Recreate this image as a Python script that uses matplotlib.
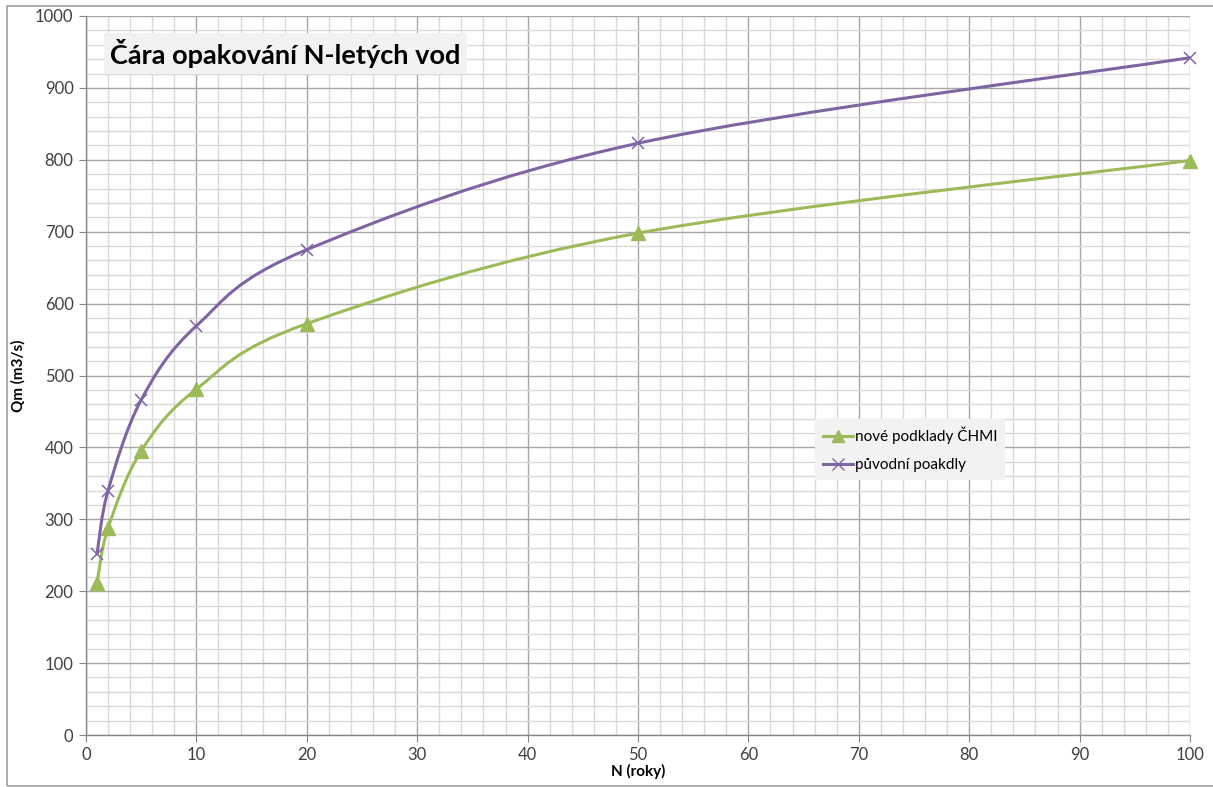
"""Čára opakování N-letých vod – Excel style smoothed line chart."""

import numpy as np
from matplotlib import pyplot as plt
from matplotlib.lines import Line2D
from matplotlib.patches import PathPatch, Rectangle
from matplotlib.path import Path
from matplotlib.ticker import MultipleLocator

plt.rcParams["font.family"] = ["Lato", "DejaVu Sans"]

# ------------------------------------------------------------------ #
#  Data
# ------------------------------------------------------------------ #
n_years = [1, 2, 5, 10, 20, 50, 100]
q_new = [212, 288, 395, 481, 572, 698, 799]
q_old = [252, 340, 466, 569, 675, 823, 942]

series_labels = ["nové podklady ČHMI", "původní poakdly"]
title_text = "Čára opakování N-letých vod"
x_label = "N (roky)"
y_label = "Qm (m3/s)"

GREEN = "#9BBB59"
PURPLE = "#8064A2"
GRID_MAJOR = "#a6a6a6"
GRID_MINOR = "#d9d9d9"
TEXT = "#404040"


def smooth_path(xs, ys):
    """Catmull-Rom -> cubic Bezier, roughly what Excel does for smoothed lines."""
    pts = np.column_stack([xs, ys]).astype(float)
    verts = [pts[0]]
    codes = [Path.MOVETO]
    n = len(pts)
    for i in range(n - 1):
        p0 = pts[i - 1] if i > 0 else pts[i]
        p1 = pts[i]
        p2 = pts[i + 1]
        p3 = pts[i + 2] if i + 2 < n else pts[i + 1]
        c1 = p1 + (p2 - p0) / 6.0
        c2 = p2 - (p3 - p1) / 6.0
        verts += [c1, c2, p2]
        codes += [Path.CURVE4] * 3
    return Path(verts, codes)


fig = plt.figure(figsize=(12.13, 7.87), dpi=100)
ax = fig.add_axes([86 / 1213, 52 / 787, 1104 / 1213, 719 / 787])

# outer chart border (its right edge lies outside the image)
fig.patches.append(
    Rectangle((7 / 1213, 1 / 787), 1220 / 1213, 780 / 787, transform=fig.transFigure,
              fill=False, edgecolor="#a0a0a0", linewidth=1.2)
)

ax.set_xlim(0, 100)
ax.set_ylim(0, 1000)
ax.xaxis.set_major_locator(MultipleLocator(10))
ax.xaxis.set_minor_locator(MultipleLocator(2))
ax.yaxis.set_major_locator(MultipleLocator(100))
ax.yaxis.set_minor_locator(MultipleLocator(20))
ax.grid(which="minor", color=GRID_MINOR, linewidth=1.0)
ax.grid(which="major", color=GRID_MAJOR, linewidth=1.0)
ax.set_axisbelow(True)

for side in ("top", "right"):
    ax.spines[side].set_visible(False)
for side in ("left", "bottom"):
    ax.spines[side].set_color("#868686")
    ax.spines[side].set_linewidth(1.0)

ax.tick_params(which="major", length=5, color="#868686", labelsize=12,
               labelcolor=TEXT, pad=4)
ax.tick_params(which="minor", length=0)

# curves
for ys, color in ((q_new, GREEN), (q_old, PURPLE)):
    ax.add_patch(PathPatch(smooth_path(n_years, ys), fill=False, edgecolor=color,
                           linewidth=2.2, capstyle="round", zorder=3))

ax.plot(n_years, q_new, linestyle="none", marker="^", markersize=10,
        color=GREEN, zorder=4, clip_on=False)
ax.plot(n_years, q_old, linestyle="none", marker="x", markersize=9,
        markeredgewidth=1.1, color=PURPLE, zorder=4, clip_on=False)

# title inside plot area
ax.text(2.2, 948, title_text, fontsize=19.5, fontweight="bold", color="black",
        ha="left", va="center", zorder=5,
        bbox=dict(boxstyle="square,pad=0.22", facecolor="#f2f2f2", edgecolor="none"))

ax.set_xlabel(x_label, fontsize=11, fontweight="bold", color="black", labelpad=0)
ax.set_ylabel(y_label, fontsize=11, fontweight="bold", color="black", labelpad=7)

handles = [
    Line2D([], [], color=GREEN, linewidth=2.2, marker="^", markersize=8),
    Line2D([], [], color=PURPLE, linewidth=2.2, marker="x", markersize=8,
           markeredgewidth=1.0),
]
leg = ax.legend(handles, series_labels, loc="upper left",
                bbox_to_anchor=((815 - 86) / 1104, 1 - (419 - 16) / 719),
                fontsize=11, frameon=True, fancybox=False, facecolor="#f2f2f2",
                edgecolor="none", framealpha=1.0, handlelength=2.0, handletextpad=0.1,
                borderpad=0.5, labelspacing=0.9, borderaxespad=0)
for t in leg.get_texts():
    t.set_color("black")

fig.savefig("out.png", dpi=100)
